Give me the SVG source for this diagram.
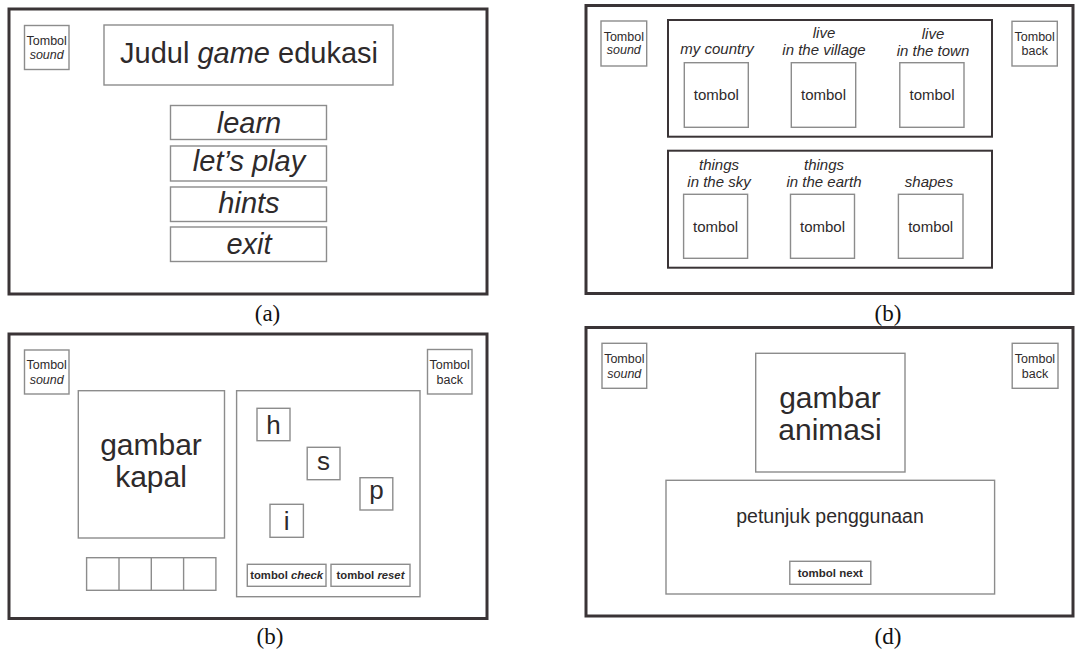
<svg xmlns="http://www.w3.org/2000/svg" width="1076" height="658" viewBox="0 0 1076 658">
<style>
.frame{fill:#fff;stroke:#3a3436;stroke-width:3}
.grp{fill:none;stroke:#3a3436;stroke-width:2}
.box{fill:#fff;stroke:#8c8c8c;stroke-width:1.4}
.t{font-family:"Liberation Sans",Arial,sans-serif;fill:#2e2a2b;text-anchor:middle}
.i{font-style:italic}
.b{font-weight:bold}
.cap{font-family:"Liberation Serif","Times New Roman",serif;fill:#111;font-size:23px;text-anchor:middle}
.s12{font-size:12.5px}
.s15{font-size:15px}
.s29{font-size:29px}
</style>
<rect width="1076" height="658" fill="#fff"/>

<!-- Panel (a) -->
<g id="panel-a">
<rect class="frame" x="9" y="9" width="478" height="285"/>
<g id="a-sound"><rect class="box" x="24.5" y="25.5" width="44.5" height="44"/>
<text class="t s12" x="46.7" y="45">Tombol</text><text class="t s12 i" x="46.7" y="58.5">sound</text></g>
<g id="a-title"><rect class="box" x="104" y="25" width="289" height="60"/>
<text class="t s29" x="249" y="62.5">Judul <tspan font-style="italic">game</tspan> edukasi</text></g>
<g id="a-learn"><rect class="box" x="170.5" y="105.5" width="156" height="34"/><text class="t s29 i" x="249" y="132.5">learn</text></g>
<g id="a-play"><rect class="box" x="170.5" y="146" width="156" height="35"/><text class="t s29 i" x="249" y="170.5">let’s play</text></g>
<g id="a-hints"><rect class="box" x="170.5" y="187" width="156" height="34.5"/><text class="t s29 i" x="249" y="212.5">hints</text></g>
<g id="a-exit"><rect class="box" x="170.5" y="227" width="156" height="34.5"/><text class="t s29 i" x="249" y="254">exit</text></g>
<text class="cap" x="267.5" y="320.5">(a)</text>
</g>

<!-- Panel (b) top -->
<g id="panel-b">
<rect class="frame" x="586" y="5.5" width="487" height="288"/>
<g id="b-sound"><rect class="box" x="601" y="21" width="45.7" height="45"/>
<text class="t s12" x="623.8" y="40.5">Tombol</text><text class="t s12 i" x="623.8" y="54.3">sound</text></g>
<g id="b-back"><rect class="box" x="1012" y="21.3" width="45.3" height="44.7"/>
<text class="t s12" x="1034.7" y="40.5">Tombol</text><text class="t s12" x="1034.7" y="55">back</text></g>
<rect class="grp" x="668" y="20" width="324" height="116.7"/>
<rect class="grp" x="668" y="150.7" width="324" height="117"/>
<g id="b-mycountry"><text class="t s15 i" x="717" y="54">my country</text>
<rect class="box" x="684.3" y="62.7" width="64" height="64.6"/><text class="t s15" x="716.3" y="100">tombol</text></g>
<g id="b-village"><text class="t s15 i" x="824" y="38">live</text><text class="t s15 i" x="824" y="55">in the village</text>
<rect class="box" x="791.3" y="62.7" width="64.4" height="64.6"/><text class="t s15" x="823.5" y="100">tombol</text></g>
<g id="b-town"><text class="t s15 i" x="933" y="39">live</text><text class="t s15 i" x="933" y="56">in the town</text>
<rect class="box" x="899.8" y="62.7" width="64.2" height="64.6"/><text class="t s15" x="932" y="100">tombol</text></g>
<g id="b-sky"><text class="t s15 i" x="719" y="170">things</text><text class="t s15 i" x="719" y="186.5">in the sky</text>
<rect class="box" x="683.6" y="194.3" width="64" height="64"/><text class="t s15" x="715.6" y="231.5">tombol</text></g>
<g id="b-earth"><text class="t s15 i" x="824" y="170">things</text><text class="t s15 i" x="824" y="186.5">in the earth</text>
<rect class="box" x="790.5" y="194.3" width="64" height="64"/><text class="t s15" x="822.5" y="231.5">tombol</text></g>
<g id="b-shapes"><text class="t s15 i" x="929" y="186.5">shapes</text>
<rect class="box" x="898.4" y="194.3" width="64.6" height="64"/><text class="t s15" x="930.7" y="231.5">tombol</text></g>
<text class="cap" x="888" y="320.5">(b)</text>
</g>

<!-- Panel (c) labelled (b) -->
<g id="panel-c">
<rect class="frame" x="9" y="334" width="478" height="284.5"/>
<g id="c-sound"><rect class="box" x="24.5" y="350" width="44.5" height="44"/>
<text class="t s12" x="46.7" y="369">Tombol</text><text class="t s12 i" x="46.7" y="384">sound</text></g>
<g id="c-back"><rect class="box" x="427.5" y="349.5" width="44.5" height="44.5"/>
<text class="t s12" x="449.7" y="369">Tombol</text><text class="t s12" x="449.7" y="384">back</text></g>
<g id="c-image"><rect class="box" x="78.3" y="390.7" width="146.2" height="147.3"/>
<text class="t" font-size="30" x="151" y="455">gambar</text><text class="t" font-size="30" x="151" y="487">kapal</text></g>
<g id="c-slots">
<rect class="box" x="86.6" y="557.7" width="129.3" height="32.6"/>
<line x1="119" y1="557.7" x2="119" y2="590.3" stroke="#8c8c8c" stroke-width="1.4"/>
<line x1="151.3" y1="557.7" x2="151.3" y2="590.3" stroke="#8c8c8c" stroke-width="1.4"/>
<line x1="183.6" y1="557.7" x2="183.6" y2="590.3" stroke="#8c8c8c" stroke-width="1.4"/>
</g>
<g id="c-board"><rect class="box" x="236.6" y="390.7" width="183.4" height="206"/>
<rect class="box" x="257" y="408.3" width="33" height="32.4"/><text class="t" font-size="26" x="273.5" y="433.5">h</text>
<rect class="box" x="307.2" y="447.3" width="32.8" height="32.4"/><text class="t" font-size="26" x="323.6" y="470">s</text>
<rect class="box" x="360" y="477.7" width="32.8" height="32.3"/><text class="t" font-size="26" x="376.4" y="499">p</text>
<rect class="box" x="270" y="504.3" width="33.4" height="33"/><text class="t" font-size="26" x="286.7" y="530">i</text>
<rect class="box" x="247.3" y="564.3" width="78.7" height="22"/>
<text class="t b" font-size="11.3" x="286.6" y="579">tombol <tspan font-style="italic">check</tspan></text>
<rect class="box" x="331" y="564.3" width="79" height="22"/>
<text class="t b" font-size="11.3" x="370.5" y="579">tombol <tspan font-style="italic">reset</tspan></text>
</g>
<text class="cap" x="270" y="643.5">(b)</text>
</g>

<!-- Panel (d) -->
<g id="panel-d">
<rect class="frame" x="586" y="327.5" width="487" height="288.5"/>
<g id="d-sound"><rect class="box" x="602" y="343.3" width="44.7" height="45"/>
<text class="t s12" x="624.3" y="363.3">Tombol</text><text class="t s12 i" x="624.3" y="377.5">sound</text></g>
<g id="d-back"><rect class="box" x="1012.2" y="343.3" width="45.8" height="45"/>
<text class="t s12" x="1035" y="363.3">Tombol</text><text class="t s12" x="1035" y="377.5">back</text></g>
<g id="d-anim"><rect class="box" x="755.7" y="353.3" width="149.3" height="118.7"/>
<text class="t" font-size="30" x="830" y="407.5">gambar</text><text class="t" font-size="30" x="830" y="439.5">animasi</text></g>
<g id="d-guide"><rect class="box" x="666" y="480.3" width="328.6" height="113.7"/>
<text class="t" font-size="19.5" x="830" y="523">petunjuk penggunaan</text>
<rect class="box" x="789.8" y="561.3" width="81" height="23"/>
<text class="t b" font-size="11.5" x="830.3" y="577">tombol next</text></g>
<text class="cap" x="888" y="643.5">(d)</text>
</g>
</svg>
